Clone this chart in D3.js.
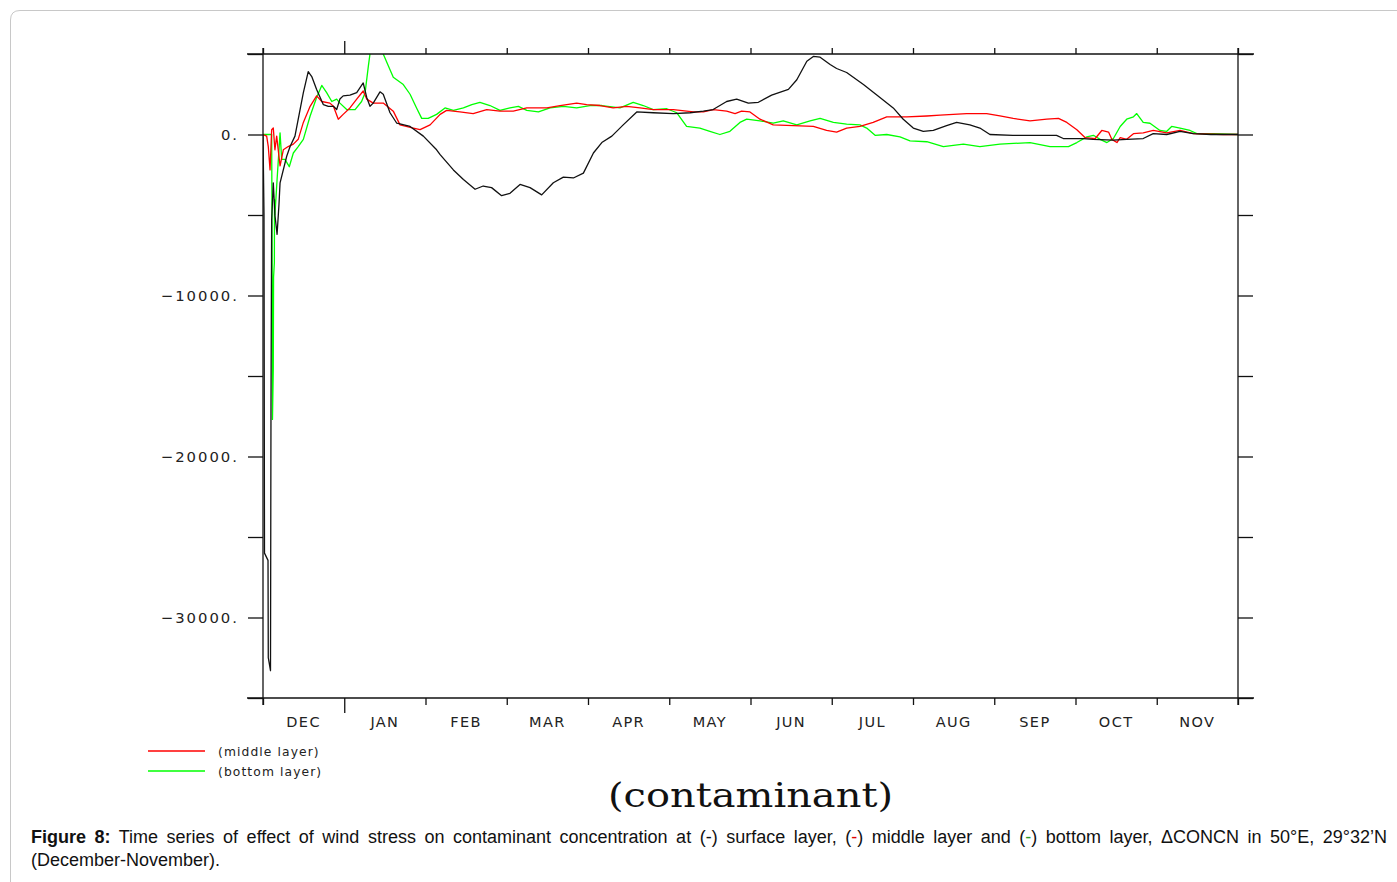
<!DOCTYPE html>
<html>
<head>
<meta charset="utf-8">
<script src="https://cdn.jsdelivr.net/npm/d3@7"></script>
<style>
  html, body { margin: 0; padding: 0; background: #fff; }
  svg { display: block; }
</style>
</head>
<body>
<svg id="chart" width="1397" height="882"></svg>
<script>
// ---- Data (day index within a 360-day, 12 x 30-day year starting Dec 1) ----
const monthLabels = ["DEC","JAN","FEB","MAR","APR","MAY","JUN","JUL","AUG","SEP","OCT","NOV"];
const yTickValues = [5000, 0, -5000, -10000, -15000, -20000, -25000, -30000, -35000];
const yTickLabels = ["", "0.", "", "\u221210000.", "", "\u221220000.", "", "\u221230000.", ""];

const surfaceDays = [0,0.37,0.55,1.85,1.95,2.77,2.95,3.2,3.8,4.4,5.2,5.9,6.3,8.75,10,11.8,14.9,16.7,18,19.8,22.3,24.1,26,27.2,28.4,29.6,32.1,34.6,37,38.3,39.5,40.7,43.2,44.4,46.9,49.4,54.3,59.2,64.1,65.4,70.3,74,78.3,81.3,84.4,88.1,91.2,94.9,98.6,102.9,107.2,110.9,114.6,118.3,122,125.1,128.8,133,138,144.1,151.5,157.7,162.6,166.2,171.2,174.9,179.2,182.9,187.8,194,197.1,200.8,203.2,205.7,209.4,211.8,215.5,221.7,227.8,232.7,236.4,240.1,243.8,247.5,252.4,256.1,261,264.7,268.4,276.9,293,295.5,302.9,306.5,313.9,318.9,325,328.7,333.7,338.6,343.5,350,360];
const surfaceVals = [0,-5000,-26000,-26450,-32500,-33300,-16900,-5300,-3000,-5000,-6200,-4350,-3000,-1350,-750,-100,2600,3900,3600,2800,1850,1750,1750,1550,2200,2400,2450,2600,3200,2300,1750,1950,2650,2500,1350,700,500,-100,-950,-1250,-2200,-2800,-3400,-3200,-3300,-3800,-3650,-3100,-3300,-3750,-3000,-2650,-2700,-2400,-1150,-500,-100,600,1400,1350,1300,1350,1450,1550,2050,2200,1950,2000,2450,2800,3400,4550,4850,4800,4350,4100,3850,3100,2300,1650,950,400,200,250,550,750,600,400,0,-50,-50,-250,-250,-300,-350,-300,-250,50,0,200,50,0,0];

const middleDays = [0,1.35,1.95,2.6,3.2,3.8,4.4,5.05,6.3,7.5,9.3,11.2,13,14.9,17.4,19.8,21.7,24.7,26,27.8,29.6,32.1,34.6,37,38.3,40.7,44.4,48.1,50.6,55.5,58,61.7,65.4,67.8,72.7,77.6,82.6,87.5,92.4,97.4,104.8,109.7,115.8,119.5,124.4,129.3,134.3,139.2,144.1,151.5,158.9,162.6,166.3,171.2,174.3,176.7,179.8,183.5,188.4,195.8,203.2,208.1,211.8,215.5,220.4,225.3,230.3,237.7,245.1,250,254.9,259.8,267.2,272.1,277,283.2,289.4,293.7,296.8,300.5,303.6,307.3,309.7,312.2,313.4,315.3,316.5,318.9,321.4,325,328.7,333.7,338.6,343.5,354.6,360];
const middleVals = [0,-100,-750,-2200,300,400,-950,-100,-1950,-950,-750,-600,-300,750,1750,2400,2050,1950,1750,950,1250,1650,2200,2700,2200,1950,1950,1450,600,400,300,600,1250,1500,1400,1300,1550,1450,1450,1650,1650,1800,1950,1850,1800,1650,1750,1650,1550,1550,1400,1400,1550,1450,1300,1450,1400,950,600,550,500,250,150,400,500,750,1100,1100,1150,1200,1250,1300,1300,1150,1000,850,950,1000,750,300,-200,-250,250,150,-300,-500,-200,-300,50,100,250,100,250,50,0,0];

const bottomDays = [0,3.2,3.4,3.5,3.8,3.9,4.2,4.25,4.4,5.2,6.3,6.9,8.1,9.7,11.2,13,14.9,17.4,19.8,21.7,23.5,25.4,27.2,28.4,30.9,34,36.4,37.7,38.9,39.5,40.6,43.2,44.4,46.3,48.1,51.8,54.3,56.7,58.6,61,64.1,67.2,70.3,74,77.1,80.1,83.8,87.5,91.2,94.3,97.4,101.7,106,110.9,115.8,120.7,125.1,131.8,136.7,140.4,144.1,149.1,152.8,156.4,161.3,165,168.7,172.4,176.1,178.6,183.5,188.4,192.1,197.1,202,205.7,210.6,215.5,220.4,222.9,226,230.3,235.2,238.9,245.1,251.2,258.6,264.7,272.1,283.2,290.6,297.4,300.5,304.2,306.6,309.1,311.6,314,316.5,318.9,321.4,322.6,325,327.5,331.2,333.7,335.5,338.6,342.3,344.8,350.9,360];
const bottomVals = [0,0,-9000,-17700,-14500,-8850,-7950,-4050,-5000,-2800,100,-1550,-1550,-2000,-1150,-750,-300,1150,2300,3050,2600,2050,2200,1950,1550,1550,2050,2600,4250,5000,5600,5600,5000,4250,3550,3100,2500,1650,1000,1000,1250,1650,1500,1650,1850,2000,1800,1500,1650,1750,1500,1400,1650,1750,1650,1800,1800,1650,2000,1800,1550,1600,1350,500,400,200,0,200,750,950,850,700,850,600,850,1000,750,650,600,400,-50,0,-150,-400,-450,-750,-600,-750,-600,-500,-750,-750,-500,-150,-50,-300,-500,-250,500,950,1100,1300,750,700,250,200,500,400,250,50,50,0];

const legendLabels = ["(middle layer)", "(bottom layer)"];
const titleText = "(contaminant)";

// ---- Layout ----
const svg = d3.select("#chart");
const L = 263, R = 1238, T = 54, B = 698;
const x = d3.scaleLinear().domain([0, 360]).range([L, R]);
const y = d3.scaleLinear().domain([-35000, 5000]).range([B, T]);

// figure border
svg.append("path")
  .attr("d", "M10.5,882 L10.5,20 Q10.5,10.5 20,10.5 L1397,10.5")
  .attr("fill", "none").attr("stroke", "#c8c8c8").attr("stroke-width", 1);

// clip
svg.append("clipPath").attr("id", "plotclip")
  .append("rect").attr("x", L).attr("y", T).attr("width", R - L).attr("height", B - T);

const line = d3.line().x(d => x(d[0])).y(d => y(d[1]));
const series = [
  {days: bottomDays, vals: bottomVals, color: "#00ff00"},
  {days: middleDays, vals: middleVals, color: "#ff0000"},
  {days: surfaceDays, vals: surfaceVals, color: "#111111"}
];
const gLines = svg.append("g").attr("clip-path", "url(#plotclip)");
series.forEach(s => {
  gLines.append("path")
    .datum(s.days.map((d, i) => [d, s.vals[i]]))
    .attr("d", line)
    .attr("fill", "none")
    .attr("stroke", s.color)
    .attr("stroke-width", 1.3)
    .attr("stroke-linejoin", "round");
});

const axisColor = "#111";
const fontFam = "'DejaVu Sans', sans-serif";

// frame lines (extend 15px beyond corners horizontally, ticks vertically)
const monthTicks = d3.range(0, 361, 30);
svg.append("line").attr("x1", L - 16).attr("x2", R + 16).attr("y1", T).attr("y2", T);
svg.append("line").attr("x1", L - 16).attr("x2", R + 16).attr("y1", B).attr("y2", B);
svg.selectAll("line").attr("stroke", axisColor).attr("stroke-width", 1.3);

// y axes via d3.axis
const yAxisL = d3.axisLeft(y).tickValues(yTickValues)
  .tickFormat((d, i) => yTickLabels[i]).tickSize(15).tickSizeOuter(0).tickPadding(9);
const yAxisR = d3.axisRight(y).tickValues(yTickValues)
  .tickFormat(() => "").tickSize(15).tickSizeOuter(0);
const gyl = svg.append("g").attr("transform", `translate(${L},0)`).call(yAxisL);
const gyr = svg.append("g").attr("transform", `translate(${R},0)`).call(yAxisR);
[gyl, gyr].forEach(g => {
  g.select(".domain").remove();
  g.selectAll(".tick line").attr("stroke", axisColor).attr("stroke-width", 1.3);
});
gyl.selectAll(".tick text")
  .attr("font-family", fontFam).attr("font-size", 14.8)
  .attr("letter-spacing", "2px").attr("fill", "#222");

// x axes: top and bottom month boundary ticks (Jan boundary longer)
const xAxisTop = d3.axisTop(x).tickValues(monthTicks).tickFormat(() => "")
  .tickSize(6).tickSizeOuter(0);
const xAxisBot = d3.axisBottom(x).tickValues(monthTicks).tickFormat(() => "")
  .tickSize(7).tickSizeOuter(0);
const gxt = svg.append("g").attr("transform", `translate(0,${T})`).call(xAxisTop);
const gxb = svg.append("g").attr("transform", `translate(0,${B})`).call(xAxisBot);
[gxt, gxb].forEach(g => {
  g.select(".domain").remove();
  g.selectAll(".tick line").attr("stroke", axisColor).attr("stroke-width", 1.3);
});
gxt.selectAll(".tick line").attr("y2", d => d === 30 ? -13 : -6);
gxb.selectAll(".tick line").attr("y2", d => d === 30 ? 15 : 7);

// vertical frame lines
[L, R].forEach(xx => {
  svg.append("line").attr("x1", xx).attr("x2", xx).attr("y1", T - 6).attr("y2", B + 7)
    .attr("stroke", axisColor).attr("stroke-width", 1.3);
});

// month labels
svg.append("g").selectAll("text").data(monthLabels).join("text")
  .attr("x", (d, i) => x(i * 30 + 15))
  .attr("y", 727)
  .attr("text-anchor", "middle")
  .attr("font-family", fontFam).attr("font-size", 14.5)
  .attr("letter-spacing", "1.4px").attr("fill", "#222")
  .text(d => d);

// legend
const legendColors = ["#ff0000", "#00ff00"];
legendLabels.forEach((lab, i) => {
  const yy = 751 + i * 20;
  svg.append("line").attr("x1", 148).attr("x2", 205).attr("y1", yy).attr("y2", yy)
    .attr("stroke", legendColors[i]).attr("stroke-width", 1.3);
  svg.append("text").attr("x", 218).attr("y", yy + 5)
    .attr("font-family", fontFam).attr("font-size", 12.3)
    .attr("letter-spacing", "1.1px").attr("fill", "#222").text(lab);
});

// title
svg.append("text").attr("x", 608).attr("y", 807)
  .attr("font-family", "'DejaVu Serif', serif").attr("font-size", 34)
  .attr("textLength", 285).attr("lengthAdjust", "spacingAndGlyphs")
  .attr("fill", "#111").text(titleText);

// caption
const capFont = "'Liberation Sans', Arial, sans-serif";
const capSize = 18;
const cap1 = svg.append("text").attr("x", 31).attr("y", 843)
  .attr("font-family", capFont).attr("font-size", capSize).attr("fill", "#111");
const parts = [
  {t: "Figure 8:", w: "bold"},
  {t: " Time series of effect of wind stress on contaminant concentration at (-) surface layer, ("},
  {t: "-", c: "#e00000"},
  {t: ") middle layer and ("},
  {t: "-", c: "#2a9a2a"},
  {t: ") bottom layer, \u0394CONCN in 50\u00b0E, 29\u00b032\u2019N"}
];
parts.forEach(p => {
  const ts = cap1.append("tspan").text(p.t);
  if (p.w) ts.attr("font-weight", p.w);
  if (p.c) ts.attr("fill", p.c);
});
const natural = cap1.node().getComputedTextLength();
const fullText = parts.map(p => p.t).join("");
const nSpaces = (fullText.match(/ /g) || []).length;
const target = 1387 - 31;
if (natural < target) {
  cap1.attr("word-spacing", ((target - natural) / nSpaces).toFixed(3) + "px");
} else {
  cap1.attr("textLength", target).attr("lengthAdjust", "spacingAndGlyphs");
}
svg.append("text").attr("x", 31).attr("y", 866)
  .attr("font-family", capFont).attr("font-size", capSize).attr("fill", "#111")
  .text("(December-November).");
</script>
</body>
</html>
